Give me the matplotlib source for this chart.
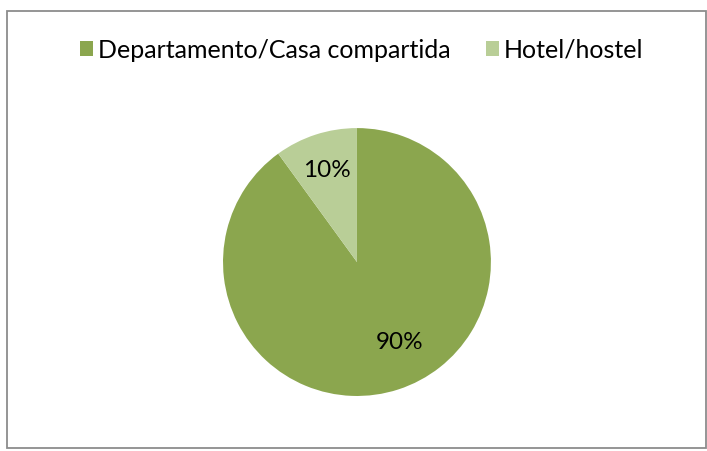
import matplotlib.pyplot as plt
from matplotlib.patches import Rectangle

labels = ['Departamento/Casa compartida', 'Hotel/hostel']
shares = [90, 10]
colors = ['#8BA64E', '#B9CE97']

plt.rcParams['font.family'] = ['Lato', 'DejaVu Sans']

fig = plt.figure(figsize=(7.07, 4.51), dpi=100)
ax = fig.add_axes([0.3154, 0.122, 0.379, 0.594])

wedges, texts, autotexts = ax.pie(shares, colors=colors, startangle=90, counterclock=False,
                                  autopct='%1.0f%%', pctdistance=0.72,
                                  wedgeprops={'linewidth': 0},
                                  textprops={'fontsize': 17.5, 'color': 'black'})
ax.set_aspect('equal')
ax.set_xlim(-1, 1)
ax.set_ylim(-1, 1)
# Excel puts the big label a little off the slice middle
autotexts[0].set_position((0.32, -0.60))

fig.legend(wedges, labels, loc='center', bbox_to_anchor=(0.512, 0.889), ncol=2,
           frameon=False, fontsize=18, handlelength=0.52, handleheight=0.52,
           handletextpad=0.2, columnspacing=1.4)

# grey frame around the chart
frame = Rectangle((7 / 707, 1 - 448 / 451), 699 / 707, 437 / 451, transform=fig.transFigure,
                  fill=False, edgecolor='#8C8C8C', linewidth=1.3)
fig.patches.append(frame)

fig.savefig('out.png', dpi=100)
